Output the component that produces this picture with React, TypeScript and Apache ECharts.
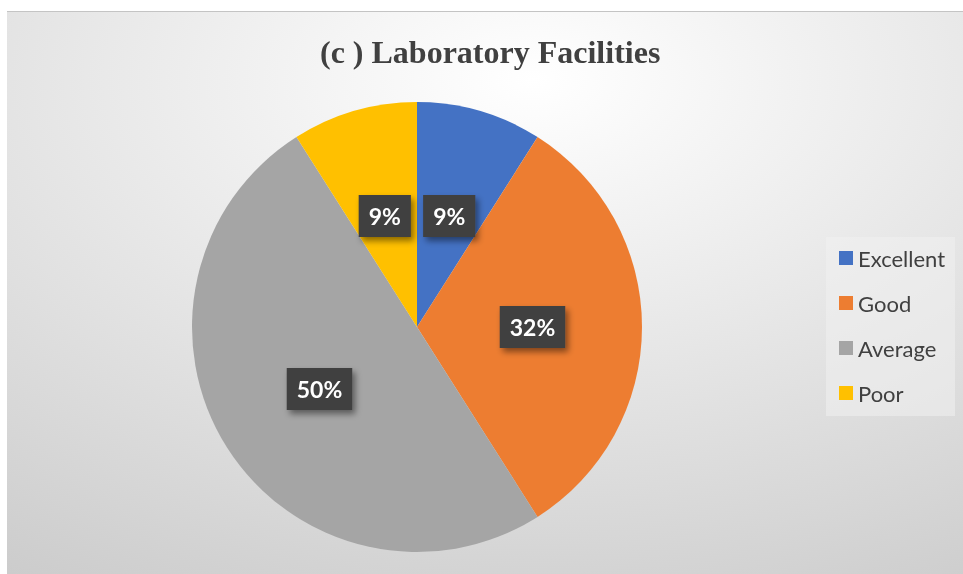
import React, { useEffect, useRef } from "react";
import * as echarts from "echarts";

const categories = ["Excellent", "Good", "Average", "Poor"];
const values = [9, 32, 50, 9];
const colors = ["#4472C4", "#ED7D31", "#A5A5A5", "#FFC000"];
const titleText = "(c ) Laboratory Facilities";

export default function App() {
  const ref = useRef<HTMLDivElement>(null);
  useEffect(() => {
    if (!ref.current) return;
    const chart = echarts.init(ref.current, null, { renderer: "svg" });
    chart.setOption({
      animation: false,
      backgroundColor: {
        type: "radial",
        x: 0.55,
        y: 0.12,
        r: 1.3,
        colorStops: [
          { offset: 0, color: "#ffffff" },
          { offset: 1, color: "#bfbfbf" },
        ],
      },
      title: {
        text: titleText,
        left: 308,
        top: 19,
        textStyle: {
          fontFamily: "Liberation Serif",
          fontWeight: "bold",
          fontSize: 32,
          color: "#404040",
        },
      },
      legend: {
        orient: "vertical",
        left: 819,
        top: 225,
        padding: [10, 10, 12, 13],
        itemWidth: 14,
        itemHeight: 14,
        itemGap: 23,
        icon: "rect",
        backgroundColor: "rgba(240,240,240,0.55)",
        textStyle: {
          fontFamily: "Lato",
          fontSize: 22,
          lineHeight: 20,
          color: "#404040",
        },
        data: categories,
      },
      series: [
        {
          type: "pie",
          center: [410, 315],
          radius: [0, 225],
          startAngle: 90,
          clockwise: true,
          data: categories.map((c, i) => ({
            name: c,
            value: values[i],
            itemStyle: { color: colors[i] },
          })),
          label: {
            show: true,
            position: "inside",
            formatter: (p: any) => `${Math.round(p.percent)}%`,
            fontFamily: "Lato",
            fontWeight: "bold",
            fontSize: 23,
            lineHeight: 22,
            color: "#ffffff",
            backgroundColor: "#404040",
            padding: [10, 10],
            shadowColor: "rgba(0,0,0,0.45)",
            shadowBlur: 6,
            shadowOffsetX: 3,
            shadowOffsetY: 4,
          },
          labelLine: { show: false },
          emphasis: { disabled: true },
        },
      ],
    });
    return () => chart.dispose();
  }, []);
  return (
    <div
      ref={ref}
      style={{
        position: "fixed",
        left: 7,
        top: 11,
        width: 956,
        height: 563,
        borderTop: "1px solid #c4c4c4",
        boxSizing: "border-box",
      }}
    />
  );
}
